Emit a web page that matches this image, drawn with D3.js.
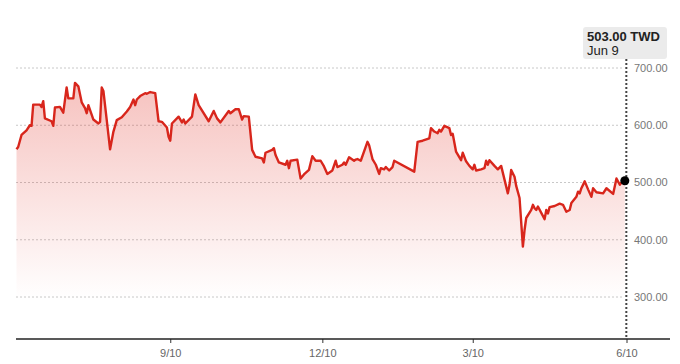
<!DOCTYPE html>
<html>
<head>
<meta charset="utf-8">
<script src="https://cdn.jsdelivr.net/npm/d3@7"></script>
<style>
  body { margin: 0; background: #fff; font-family: "Liberation Sans", Arial, sans-serif; }
</style>
</head>
<body>
<svg id="chart" width="680" height="364"></svg>
<script>
// price in TWD
const dates = [
  '2024-06-10','2024-06-11','2024-06-13','2024-06-16','2024-06-18','2024-06-19','2024-06-20','2024-06-24','2024-06-25','2024-06-26',
  '2024-06-27','2024-07-01','2024-07-02','2024-07-03','2024-07-06','2024-07-08','2024-07-10','2024-07-11','2024-07-14','2024-07-15',
  '2024-07-17','2024-07-19','2024-07-21','2024-07-22','2024-07-23','2024-07-26','2024-07-29','2024-07-30','2024-07-31','2024-08-01',
  '2024-08-05','2024-08-07','2024-08-09','2024-08-12','2024-08-15','2024-08-17','2024-08-19','2024-08-20','2024-08-21','2024-08-23',
  '2024-08-26','2024-08-27','2024-08-29','2024-09-01','2024-09-03','2024-09-05','2024-09-08','2024-09-09','2024-09-10','2024-09-11',
  '2024-09-15','2024-09-17','2024-09-18','2024-09-19','2024-09-23','2024-09-25','2024-09-27','2024-10-03','2024-10-06','2024-10-08',
  '2024-10-10','2024-10-15','2024-10-16','2024-10-19','2024-10-21','2024-10-23','2024-10-24','2024-10-27','2024-10-29','2024-10-31',
  '2024-11-04','2024-11-05','2024-11-06','2024-11-10','2024-11-11','2024-11-12','2024-11-14','2024-11-18','2024-11-19','2024-11-20',
  '2024-11-21','2024-11-25','2024-11-27','2024-11-29','2024-12-02','2024-12-04','2024-12-06','2024-12-09','2024-12-11','2024-12-13',
  '2024-12-16','2024-12-18','2024-12-19','2024-12-22','2024-12-23','2024-12-24','2024-12-26','2024-12-29','2024-12-30','2024-12-31',
  '2025-01-02','2025-01-06','2025-01-07','2025-01-09','2025-01-11','2025-01-13','2025-01-14','2025-01-16','2025-01-17','2025-01-19',
  '2025-01-21','2025-01-22','2025-02-03','2025-02-05','2025-02-08','2025-02-12','2025-02-13','2025-02-15','2025-02-17','2025-02-18',
  '2025-02-19','2025-02-21','2025-02-24','2025-02-25','2025-02-26','2025-02-28','2025-03-03','2025-03-04','2025-03-06','2025-03-08',
  '2025-03-10','2025-03-11','2025-03-12','2025-03-15','2025-03-17','2025-03-18','2025-03-19','2025-03-20','2025-03-23','2025-03-25',
  '2025-03-27','2025-03-29','2025-03-31','2025-04-01','2025-04-02','2025-04-04','2025-04-05','2025-04-07','2025-04-09','2025-04-10',
  '2025-04-11','2025-04-14','2025-04-15','2025-04-16','2025-04-17','2025-04-18','2025-04-20','2025-04-22','2025-04-23','2025-04-24',
  '2025-04-25','2025-04-28','2025-05-01','2025-05-03','2025-05-05','2025-05-07','2025-05-08','2025-05-11','2025-05-12','2025-05-13',
  '2025-05-14','2025-05-16','2025-05-18','2025-05-20','2025-05-21','2025-05-23','2025-05-27','2025-05-29','2025-06-02','2025-06-04',
  '2025-06-06','2025-06-07','2025-06-09'
];
const prices = [
  558,562,583,591,600,599,636,636,632,642,
  612,607,599,631,632,622,666,647,647,674,
  668,640,630,621,635,610,603,606,666,660,
  558,589,609,614,624,632,645,635,645,651,
  656,655,658,656,607,606,596,580,573,603,
  615,605,610,603,615,654,635,607,625,612,
  605,625,621,628,628,610,616,615,557,545,
  542,535,552,557,560,548,535,531,538,525,
  538,540,507,514,522,546,538,538,528,515,
  521,538,527,531,535,531,544,538,540,541,
  538,571,565,541,531,515,525,523,527,521,
  527,538,519,571,573,577,595,589,586,592,
  589,599,595,583,585,554,539,552,537,529,
  523,531,521,523,525,538,531,539,529,523,
  529,505,481,496,522,510,494,473,388,417,
  438,452,461,455,452,458,447,436,452,446,
  457,459,463,461,449,452,464,475,484,481,
  490,502,488,475,490,483,481,490,480,507,
  496,500,503
];
const yTicks = [300, 400, 500, 600, 700];
const xTickDates = ['2024-09-10', '2024-12-10', '2025-03-10', '2025-06-10'];
const domainStart = '2024-06-10';
const domainEnd = '2025-06-10';
const lastLabel = '503.00 TWD';
const lastDate = 'Jun 9';

const parse = d3.timeParse('%Y-%m-%d');
const data = dates.map((d, i) => ({ date: parse(d), value: prices[i] }));

const svg = d3.select('#chart');
const baseY = 339;

const x = d3.scaleTime()
  .domain([parse(domainStart), parse(domainEnd)])
  .range([16.5, 626.5]);
const y = d3.scaleLinear()
  .domain([300, 700])
  .range([297, 68]);

// gradient under the line
const grad = svg.append('defs').append('linearGradient')
  .attr('id', 'fade')
  .attr('gradientUnits', 'userSpaceOnUse')
  .attr('x1', 0).attr('y1', 68).attr('x2', 0).attr('y2', 300);
grad.append('stop').attr('offset', 0).attr('stop-color', '#e0261b').attr('stop-opacity', 0.3);
grad.append('stop').attr('offset', 1).attr('stop-color', '#e0261b').attr('stop-opacity', 0);

// grid lines
svg.append('g')
  .selectAll('line')
  .data(yTicks)
  .join('line')
  .attr('x1', 16).attr('x2', 623)
  .attr('y1', d => y(d)).attr('y2', d => y(d))
  .attr('stroke', '#c8c8c8')
  .attr('stroke-dasharray', '2,2');

// y labels
svg.append('g')
  .selectAll('text')
  .data(yTicks)
  .join('text')
  .attr('x', 634)
  .attr('y', d => y(d))
  .attr('dy', '0.35em')
  .attr('font-size', 11)
  .attr('fill', '#777')
  .text(d => d3.format('.2f')(d));

// area + line
const area = d3.area()
  .x(d => x(d.date))
  .y0(baseY)
  .y1(d => y(d.value));
svg.append('path')
  .datum(data)
  .attr('d', area)
  .attr('fill', 'url(#fade)');

const line = d3.line()
  .x(d => x(d.date))
  .y(d => y(d.value));
svg.append('path')
  .datum(data)
  .attr('d', line)
  .attr('fill', 'none')
  .attr('stroke', '#d8261c')
  .attr('stroke-width', 2.4)
  .attr('stroke-linejoin', 'round');

// x axis
const xAxis = d3.axisBottom(x)
  .tickValues(xTickDates.map(parse))
  .tickFormat(d3.timeFormat('%-m/%-d'))
  .tickSize(4)
  .tickPadding(6);
const gx = svg.append('g')
  .attr('transform', `translate(0,${baseY})`)
  .call(xAxis);
gx.select('.domain').remove();
gx.selectAll('.tick line').attr('stroke', '#333');
gx.selectAll('.tick text')
  .attr('fill', '#666')
  .attr('font-size', 11)
  .attr('font-family', '"Liberation Sans", Arial, sans-serif');
svg.append('line')
  .attr('x1', 16).attr('x2', 670)
  .attr('y1', baseY).attr('y2', baseY)
  .attr('stroke', '#222')
  .attr('stroke-width', 1.5);

// hover marker on the last point
const last = data[data.length - 1];
svg.append('line')
  .attr('x1', x(last.date) + 1.5).attr('x2', x(last.date) + 1.5)
  .attr('y1', 59).attr('y2', baseY)
  .attr('stroke', '#444')
  .attr('stroke-width', 2)
  .attr('stroke-dasharray', '2,2');
svg.append('circle')
  .attr('cx', x(last.date))
  .attr('cy', y(last.value))
  .attr('r', 4.5)
  .attr('fill', '#000');

const tip = svg.append('g');
tip.append('rect')
  .attr('x', 583).attr('y', 27)
  .attr('width', 84).attr('height', 32)
  .attr('rx', 3)
  .attr('fill', '#ebebeb');
tip.append('text')
  .attr('x', 587).attr('y', 41)
  .attr('font-size', 13)
  .attr('font-weight', 'bold')
  .attr('fill', '#222')
  .text(lastLabel);
tip.append('text')
  .attr('x', 587).attr('y', 55)
  .attr('font-size', 13)
  .attr('fill', '#222')
  .text(lastDate);
</script>
</body>
</html>
